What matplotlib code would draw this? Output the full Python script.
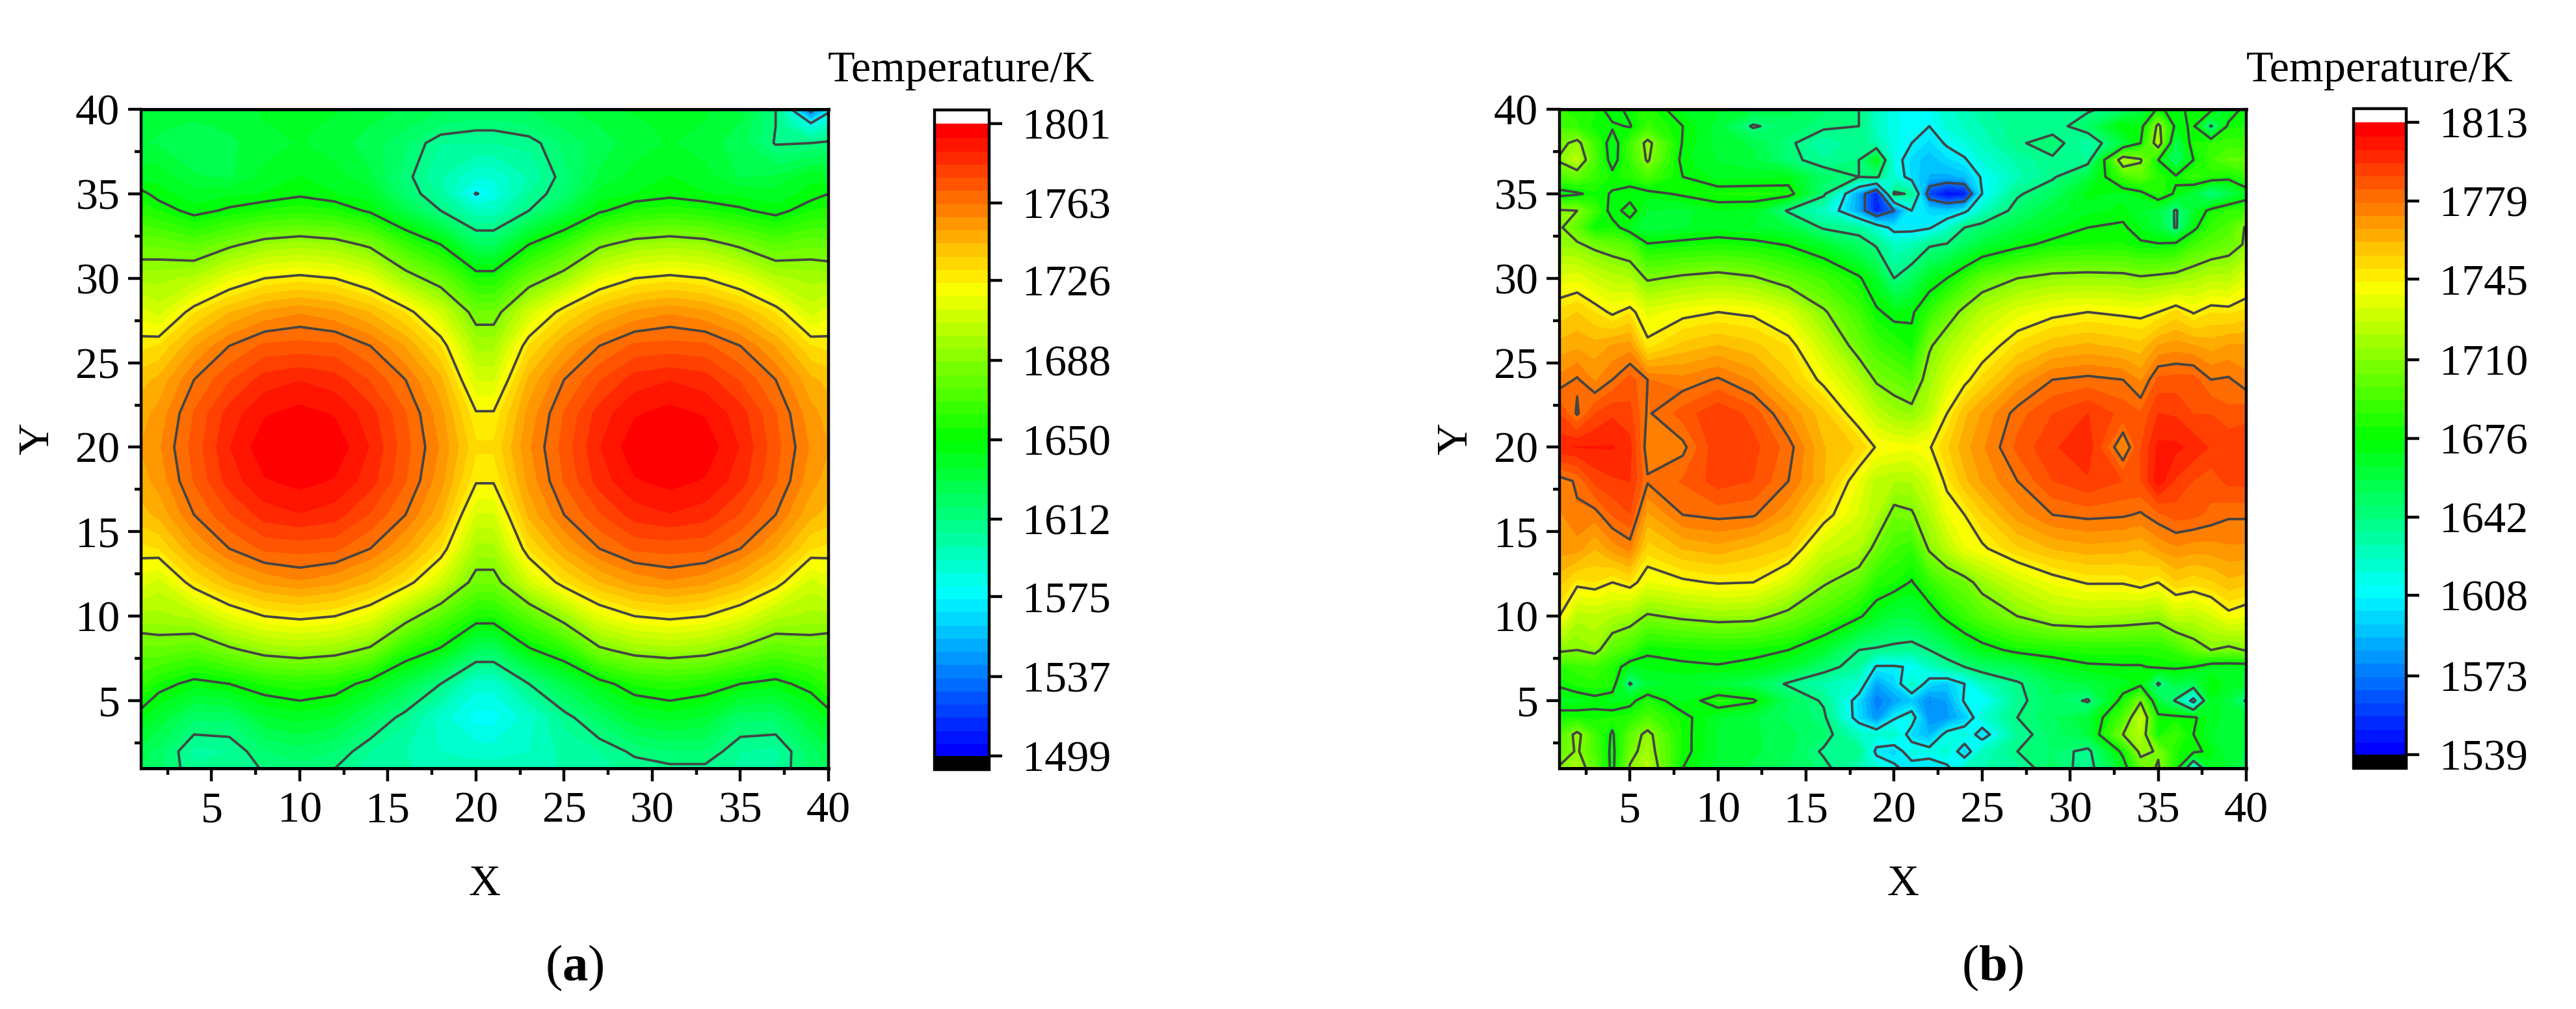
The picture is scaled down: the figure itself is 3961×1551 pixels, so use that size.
#!/usr/bin/env python3
import numpy as np
import matplotlib
matplotlib.use("Agg")
import matplotlib.pyplot as plt
from matplotlib.colors import BoundaryNorm, LinearSegmentedColormap, ListedColormap

plt.rcParams['font.family'] = ['Liberation Serif', 'DejaVu Serif']
plt.rcParams['mathtext.fontset'] = 'custom'
plt.rcParams['mathtext.rm'] = 'Liberation Serif'
plt.rcParams['mathtext.bf'] = 'Liberation Serif:bold'

W, H = 3962, 1551

axis_ticks = [5, 10, 15, 20, 25, 30, 35, 40]
minor_ticks = [2.5, 7.5, 12.5, 17.5, 22.5, 27.5, 32.5, 37.5]

# panel (a), temperatures
ticks_a = [1499, 1537, 1575, 1612, 1650, 1688, 1726, 1763, 1801]
x_a = [1, 2, 4, 6, 8, 10, 12, 14, 16, 18, 20, 21, 23, 25, 27, 29, 31, 33, 35, 37, 39, 40]
y_a = [1, 2, 4, 6, 8, 10, 12, 14, 16, 18, 20, 22, 24, 26, 28, 30, 32, 34, 35, 36, 38, 39, 40]
temp_a = [
    [1625,1620,1607,1606,1613,1616,1612,1602,1600,1598,1597,1597,1598,1600,1604,1608,1610,1610,1605,1606,1620,1625],
    [1628,1622,1604,1606,1618,1622,1618,1606,1600,1593,1590,1590,1593,1602,1606,1614,1618,1618,1606,1604,1622,1628],
    [1645,1636,1620,1620,1636,1640,1636,1622,1608,1590,1578,1578,1590,1608,1622,1636,1640,1636,1620,1620,1636,1645],
    [1664,1655,1646,1650,1657,1660,1657,1645,1630,1612,1590,1590,1612,1630,1645,1657,1660,1657,1650,1646,1655,1664],
    [1678,1680,1675,1685,1694,1697,1694,1685,1660,1648,1624,1624,1648,1660,1685,1694,1697,1694,1685,1675,1680,1678],
    [1698,1698,1702,1717,1726,1729,1726,1717,1695,1675,1657,1657,1675,1695,1717,1726,1729,1726,1717,1702,1698,1698],
    [1716,1710,1731,1744,1752,1756,1752,1744,1731,1710,1682,1682,1710,1731,1744,1752,1756,1752,1744,1731,1710,1716],
    [1730,1732,1750,1763,1771,1772,1771,1763,1750,1732,1698,1698,1732,1750,1763,1771,1772,1771,1763,1750,1732,1730],
    [1742,1746,1763,1775,1785,1788,1785,1775,1763,1746,1712,1712,1746,1763,1775,1785,1788,1785,1775,1763,1746,1742],
    [1748,1753,1770,1785,1794,1797,1794,1785,1770,1753,1727,1727,1753,1770,1785,1794,1797,1794,1785,1770,1753,1748],
    [1751,1756,1772,1788,1799,1800,1799,1788,1772,1756,1733,1733,1756,1772,1788,1799,1800,1799,1788,1772,1756,1751],
    [1748,1753,1770,1785,1794,1797,1794,1785,1770,1753,1727,1727,1753,1770,1785,1794,1797,1794,1785,1770,1753,1748],
    [1742,1746,1763,1775,1785,1788,1785,1775,1763,1746,1712,1712,1746,1763,1775,1785,1788,1785,1775,1763,1746,1742],
    [1730,1732,1750,1763,1771,1772,1771,1763,1750,1732,1698,1698,1732,1750,1763,1771,1772,1771,1763,1750,1732,1730],
    [1716,1710,1731,1744,1752,1756,1752,1744,1731,1710,1682,1682,1710,1731,1744,1752,1756,1752,1744,1731,1710,1716],
    [1698,1698,1702,1717,1726,1729,1726,1717,1695,1680,1657,1657,1680,1695,1717,1726,1729,1726,1717,1702,1698,1698],
    [1680,1680,1675,1685,1694,1697,1694,1685,1665,1650,1624,1624,1650,1665,1685,1694,1697,1694,1685,1675,1680,1678],
    [1660,1656,1646,1652,1657,1660,1657,1648,1630,1612,1595,1595,1612,1630,1648,1657,1660,1657,1652,1646,1656,1658],
    [1653,1646,1640,1642,1644,1648,1644,1640,1618,1604,1574,1582,1606,1618,1640,1644,1647,1644,1642,1640,1646,1650],
    [1640,1642,1632,1630,1640,1644,1640,1632,1615,1600,1588,1588,1600,1616,1632,1640,1644,1640,1630,1632,1642,1640],
    [1632,1630,1626,1630,1634,1638,1634,1628,1620,1606,1606,1606,1608,1620,1628,1634,1638,1634,1628,1611,1612,1614],
    [1634,1632,1630,1632,1637,1639,1636,1631,1626,1618,1614,1614,1618,1626,1631,1636,1639,1637,1630,1612,1585,1595],
    [1636,1635,1634,1635,1638,1640,1638,1634,1630,1625,1625,1625,1625,1630,1634,1638,1640,1638,1634,1612,1528,1570],
]

# panel (b)
ticks_b = [1539, 1573, 1608, 1642, 1676, 1710, 1745, 1779, 1813]
x_b = [1, 2, 3, 4, 5, 6, 8, 10, 12, 14, 16, 18, 19, 20, 21, 22, 23, 24, 25, 27, 29, 31, 33, 34, 35, 36, 37, 38, 39, 40]
y_b = [1, 2, 3, 4, 5, 6, 7, 8, 10, 12, 14, 16, 18, 20, 22, 24, 26, 28, 30, 32, 33, 34, 35, 36, 37, 38, 39, 40]
temp_b = [
    [1712,1720,1700,1672,1712,1725,1676,1662,1658,1652,1646,1628,1620,1612,1600,1600,1604,1625,1630,1634,1650,1636,1668,1700,1712,1684,1612,1668,1664,1648],
    [1700,1712,1695,1672,1704,1718,1680,1664,1660,1655,1640,1640,1604,1598,1618,1614,1622,1598,1625,1642,1648,1638,1680,1715,1708,1682,1680,1672,1660,1660],
    [1695,1715,1692,1674,1700,1715,1680,1664,1660,1655,1648,1625,1620,1625,1600,1590,1614,1620,1600,1636,1650,1660,1710,1722,1680,1690,1676,1665,1660,1665],
    [1682,1682,1680,1682,1684,1695,1680,1665,1660,1652,1645,1600,1580,1606,1616,1580,1583,1595,1620,1642,1652,1662,1695,1728,1680,1680,1678,1668,1662,1665],
    [1668,1668,1672,1668,1672,1684,1668,1684,1678,1654,1640,1600,1575,1585,1595,1578,1585,1610,1608,1638,1652,1640,1682,1708,1660,1640,1600,1670,1660,1640],
    [1678,1684,1686,1684,1640,1662,1665,1660,1655,1640,1630,1620,1585,1598,1625,1600,1595,1608,1625,1640,1655,1660,1668,1672,1640,1660,1655,1676,1668,1665],
    [1686,1690,1692,1684,1668,1672,1674,1675,1672,1664,1648,1635,1606,1606,1610,1625,1635,1642,1650,1655,1668,1674,1675,1675,1678,1678,1676,1668,1668,1668],
    [1713,1710,1715,1698,1692,1678,1680,1682,1680,1676,1664,1642,1640,1638,1636,1642,1650,1662,1670,1680,1682,1684,1684,1684,1685,1690,1702,1710,1706,1711],
    [1745,1724,1726,1722,1718,1708,1713,1716,1715,1705,1692,1678,1668,1660,1660,1668,1680,1690,1698,1710,1720,1722,1720,1718,1716,1728,1726,1732,1742,1738],
    [1758,1748,1750,1745,1750,1738,1743,1746,1745,1732,1712,1700,1685,1682,1675,1688,1698,1704,1716,1730,1740,1746,1746,1750,1745,1755,1752,1755,1760,1758],
    [1770,1770,1762,1770,1775,1753,1762,1765,1760,1755,1730,1722,1705,1693,1688,1712,1725,1738,1743,1755,1762,1765,1764,1762,1768,1772,1770,1770,1772,1772],
    [1772,1778,1776,1785,1790,1766,1779,1781,1780,1768,1750,1732,1722,1705,1708,1722,1738,1745,1755,1770,1779,1781,1780,1778,1783,1787,1786,1783,1780,1780],
    [1776,1780,1792,1795,1796,1780,1785,1793,1790,1779,1762,1738,1725,1722,1722,1732,1748,1760,1768,1779,1790,1795,1790,1790,1805,1795,1790,1787,1792,1792],
    [1800,1802,1802,1802,1798,1775,1777,1795,1792,1782,1762,1755,1744,1742,1740,1744,1755,1765,1772,1786,1795,1800,1772,1790,1803,1803,1800,1795,1795,1795],
    [1790,1778,1790,1795,1792,1778,1787,1795,1788,1772,1758,1738,1726,1718,1715,1725,1745,1760,1768,1782,1790,1796,1788,1785,1796,1795,1790,1790,1786,1788],
    [1775,1780,1772,1779,1787,1779,1775,1780,1772,1758,1742,1722,1708,1703,1697,1718,1732,1742,1752,1768,1779,1781,1779,1772,1786,1787,1787,1779,1780,1775],
    [1764,1766,1764,1768,1770,1748,1758,1762,1758,1750,1728,1703,1692,1686,1680,1708,1720,1730,1738,1752,1760,1763,1760,1758,1768,1770,1768,1765,1768,1768],
    [1752,1756,1750,1743,1749,1736,1742,1745,1743,1733,1712,1692,1678,1672,1674,1688,1702,1714,1724,1736,1742,1745,1743,1742,1745,1752,1744,1750,1749,1752],
    [1735,1737,1730,1725,1722,1708,1713,1716,1712,1702,1692,1678,1665,1642,1652,1668,1676,1688,1700,1710,1715,1716,1715,1712,1714,1716,1720,1725,1724,1735],
    [1715,1712,1706,1702,1698,1677,1680,1682,1680,1675,1665,1650,1640,1625,1628,1640,1643,1652,1662,1672,1680,1682,1682,1678,1677,1680,1692,1698,1703,1712],
    [1712,1700,1678,1682,1668,1660,1664,1668,1665,1660,1640,1635,1620,1602,1602,1606,1622,1642,1648,1660,1668,1676,1678,1670,1662,1640,1672,1690,1695,1712],
    [1712,1710,1692,1670,1682,1665,1662,1670,1668,1640,1625,1585,1550,1573,1608,1600,1595,1604,1625,1648,1662,1668,1672,1665,1660,1640,1665,1680,1688,1690],
    [1670,1674,1680,1675,1670,1672,1678,1682,1683,1682,1645,1585,1550,1645,1640,1560,1545,1548,1608,1640,1652,1672,1668,1672,1685,1674,1660,1642,1655,1668],
    [1695,1700,1690,1680,1684,1695,1676,1668,1668,1670,1650,1642,1645,1620,1600,1590,1588,1592,1610,1628,1640,1660,1692,1700,1685,1678,1690,1685,1680,1690],
    [1712,1725,1695,1670,1690,1712,1672,1664,1660,1646,1636,1642,1670,1615,1600,1592,1600,1606,1620,1632,1640,1636,1722,1712,1676,1650,1676,1692,1700,1700],
    [1705,1715,1692,1668,1692,1715,1675,1662,1658,1645,1630,1640,1630,1615,1608,1600,1610,1618,1626,1640,1648,1630,1660,1676,1722,1655,1682,1688,1690,1690],
    [1692,1688,1680,1678,1675,1690,1676,1662,1640,1650,1645,1642,1625,1615,1610,1608,1620,1625,1630,1640,1636,1650,1676,1670,1715,1672,1678,1640,1680,1682],
    [1688,1686,1682,1670,1680,1685,1668,1665,1660,1655,1648,1642,1625,1614,1608,1612,1622,1628,1634,1642,1638,1640,1648,1660,1678,1672,1680,1680,1665,1682],
]

N_BANDS = 48
LINE_COLOR = '#444444'
rainbow = LinearSegmentedColormap.from_list(
    'origin_rainbow', ['#0000ff', '#00ffff', '#00ff00', '#ffff00', '#ff0000'])


def rect(left, top, right, bottom):
    # pixel box of the reference to figure fraction
    return [left / W, (H - bottom) / H, (right - left) / W, (bottom - top) / H]


def panel(fig, xs, ys, temps, ticks, ax_box, cbar_box, label_dx, letter):
    ax = fig.add_axes(rect(*ax_box))
    levels = np.linspace(ticks[0], ticks[-1], N_BANDS + 1)
    cmap = ListedColormap(rainbow(np.linspace(0, 1, N_BANDS)))
    cmap.set_over('white')
    cmap.set_under('black')
    norm = BoundaryNorm(levels, N_BANDS)
    cf = ax.contourf(xs, ys, temps, levels=levels, cmap=cmap, norm=norm, extend='both')
    ax.contour(xs, ys, temps, levels=ticks, colors=LINE_COLOR, linewidths=2.7,
               linestyles='solid')

    ax.set_xlim(1, 40)
    ax.set_ylim(1, 40)
    ax.set_xticks(axis_ticks)
    ax.set_yticks(axis_ticks)
    ax.set_xticks(minor_ticks, minor=True)
    ax.set_yticks(minor_ticks, minor=True)
    ax.tick_params(which='major', direction='out', length=14.5, width=3.2, labelsize=49)
    ax.tick_params(which='minor', direction='out', length=7.5, width=3.2)
    ax.tick_params(axis='x', which='major', pad=11)
    ax.tick_params(axis='y', which='major', pad=9)
    ax.spines['top'].set_linewidth(3.6)
    ax.spines['right'].set_linewidth(3.2)
    ax.spines['left'].set_linewidth(3.2)
    ax.spines['bottom'].set_linewidth(3.6)

    # cax holds the white and black end boxes too, the bands shrink inside it
    cax = fig.add_axes(rect(*cbar_box))
    cb = fig.colorbar(cf, cax=cax, extend='both', extendrect=True, extendfrac=21 / 972,
                      spacing='uniform', ticks=ticks)
    cb.outline.set_linewidth(3.2)
    cb.solids.set_edgecolor('face')
    cb.ax.tick_params(which='major', direction='out', length=14.5, width=3.2, labelsize=49, pad=22)
    cb.ax.minorticks_off()
    cb.set_ticklabels([str(t) for t in ticks])

    x_mid = (ax_box[0] + ax_box[2]) / 2
    cbar_mid = (cbar_box[0] + cbar_box[2]) / 2
    fig.text((cbar_mid - 1) / W, 1 - 125 / H, 'Temperature/K', fontsize=49, ha='center', va='baseline')
    fig.text(x_mid / W, 1 - 1376 / H, 'X', fontsize=49, ha='center', va='baseline')
    fig.text((ax_box[0] - label_dx) / W, 1 - 674 / H, 'Y', fontsize=49, rotation=90,
             ha='center', va='center')
    fig.text((x_mid + 138) / W, 1 - 1507 / H, r'($\mathbf{' + letter + r'}$)', fontsize=57,
             ha='center', va='baseline')


fig = plt.figure(figsize=(W / 100, H / 100), dpi=100)
panel(fig, x_a, y_a, temp_a, ticks_a, (217, 168, 1274, 1181), (1437, 169, 1521, 1183), 159, 'a')
panel(fig, x_b, y_b, temp_b, ticks_b, (2398, 168, 3454, 1181), (3619, 167, 3700, 1181), 159, 'b')
fig.savefig('out.png', dpi=100)
plt.close(fig)
